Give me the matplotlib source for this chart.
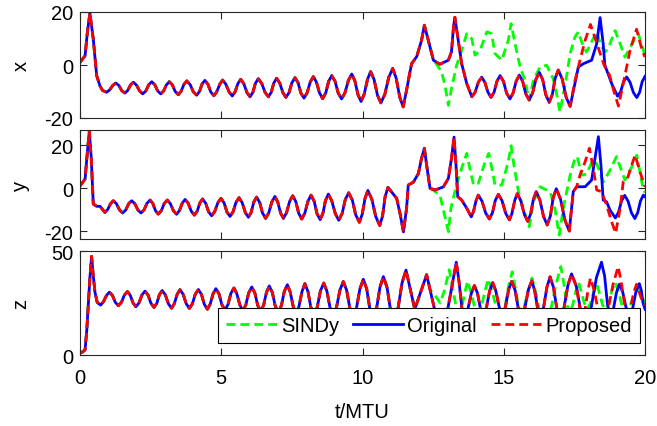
import numpy as np
import matplotlib
matplotlib.use("Agg")
import matplotlib.pyplot as plt

# (t, value) points, Original trajectory
x_orig = [(0, 1), (0.18, 3.5), (0.26, 12.3), (0.35, 19.6), (0.47, 9.8), (0.59, -4), (0.71, -8), (0.8, -9.6),
          (0.94, -10.3), (1.05, -9.4), (1.16, -7.7), (1.27, -6.8), (1.38, -7.8), (1.48, -9.7), (1.59, -10.6),
          (1.69, -9.6), (1.79, -7.5), (1.89, -6.5), (2.0, -7.6), (2.11, -9.8), (2.22, -10.9), (2.33, -9.8),
          (2.43, -7.5), (2.54, -6.3), (2.65, -7.5), (2.75, -9.8), (2.86, -10.9), (2.96, -9.8), (3.06, -7.5),
          (3.16, -6.3), (3.27, -7.5), (3.37, -10.0), (3.48, -11.2), (3.58, -9.9), (3.68, -7.3), (3.78, -6.0),
          (3.9, -7.4), (4.01, -10.1), (4.13, -11.4), (4.23, -10.0), (4.32, -7.2), (4.42, -5.8), (4.53, -7.3),
          (4.63, -10.2), (4.74, -11.6), (4.84, -10.1), (4.95, -7.2), (5.05, -5.7), (5.16, -7.2), (5.28, -10.2),
          (5.39, -11.7), (5.49, -10.1), (5.59, -7.0), (5.69, -5.4), (5.8, -7.1), (5.91, -10.4), (6.02, -12.0),
          (6.12, -10.3), (6.21, -6.9), (6.31, -5.2), (6.43, -6.9), (6.55, -10.3), (6.67, -12.0), (6.77, -10.3),
          (6.86, -6.8), (6.96, -5.0), (7.07, -6.8), (7.18, -10.4), (7.29, -12.2), (7.4, -10.4), (7.5, -6.7),
          (7.61, -4.8), (7.72, -6.7), (7.82, -10.6), (7.93, -12.5), (8.04, -10.5), (8.15, -6.4), (8.26, -4.4),
          (8.37, -6.5), (8.48, -10.6), (8.59, -12.7), (8.7, -10.5), (8.8, -6.2), (8.91, -4.0), (9.03, -6.2),
          (9.14, -10.6), (9.26, -12.8), (9.38, -10.5), (9.5, -5.8), (9.62, -3.4), (9.73, -6.0), (9.84, -11.2),
          (9.95, -13.8), (10.06, -11.0), (10.18, -5.3), (10.29, -2.5), (10.41, -5.5), (10.53, -11.4),
          (10.65, -14.3), (10.79, -11.1), (10.93, -4.6), (11.07, -1.3), (11.19, -4.9), (11.32, -12.2),
          (11.44, -15.8), (11.56, -9.5), (11.68, -2.6), (11.74, 0.5), (11.92, 3.2), (12.09, 9.3), (12.19, 15),
          (12.33, 9.3), (12.51, 1.8), (12.74, 0.3), (13.04, 1.8), (13.15, 5), (13.22, 14.3), (13.27, 18),
          (13.39, 9.3), (13.51, 0.5), (13.69, -7), (13.87, -12), (13.99, -10.2), (14.1, -6.5), (14.22, -4.6),
          (14.33, -6.5), (14.44, -10.3), (14.55, -12.2), (14.66, -10.2), (14.76, -6.1), (14.87, -4.0),
          (14.99, -6.2), (15.1, -10.6), (15.22, -12.8), (15.33, -10.6), (15.44, -6.1), (15.55, -3.8),
          (15.67, -6.2), (15.78, -10.9), (15.9, -13.2), (16.02, -10.6), (16.14, -5.4), (16.26, -2.8),
          (16.38, -5.6), (16.49, -11.3), (16.61, -14.1), (16.72, -11.1), (16.82, -5.0), (16.93, -1.9),
          (17.07, -5.3), (17.21, -12.2), (17.35, -15.6), (17.52, -7), (17.64, -0.8), (17.82, 0.5),
          (18.11, 1.8), (18.29, 8), (18.41, 17.9), (18.52, 8), (18.58, -0.1), (18.82, -7), (19.03, -11.8),
          (19.14, -10.0), (19.24, -6.3), (19.35, -4.5), (19.47, -6.5), (19.59, -10.4), (19.71, -12.3),
          (19.81, -10.3), (19.9, -6.3), (20, -4.3)]

y_orig = [(0, 1), (0.18, 4.2), (0.26, 16.6), (0.33, 26.6), (0.4, 13.5), (0.47, -7.4), (0.59, -8.5), (0.71, -8.5),
          (0.88, -11.3), (0.98, -10.0), (1.08, -7.3), (1.18, -5.9), (1.29, -7.3), (1.4, -10.2), (1.51, -11.6),
          (1.62, -10.2), (1.72, -7.3), (1.83, -5.9), (1.94, -7.3), (2.05, -10.2), (2.16, -11.6), (2.27, -10.1),
          (2.37, -7.1), (2.48, -5.6), (2.58, -7.2), (2.67, -10.5), (2.77, -12.1), (2.88, -10.5), (2.98, -7.2),
          (3.09, -5.6), (3.2, -7.3), (3.31, -10.6), (3.42, -12.2), (3.52, -10.5), (3.62, -7.0), (3.72, -5.3),
          (3.83, -7.1), (3.94, -10.8), (4.05, -12.6), (4.15, -10.7), (4.24, -7.0), (4.34, -5.1), (4.45, -7.1),
          (4.55, -11.0), (4.66, -12.9), (4.77, -10.9), (4.88, -6.8), (4.99, -4.8), (5.1, -6.9), (5.2, -11.1),
          (5.31, -13.2), (5.42, -11.0), (5.52, -6.7), (5.63, -4.5), (5.74, -6.8), (5.85, -11.3), (5.96, -13.6),
          (6.06, -11.3), (6.15, -6.6), (6.25, -4.2), (6.36, -6.7), (6.46, -11.6), (6.57, -14.1), (6.68, -11.6),
          (6.79, -6.5), (6.9, -3.9), (7.0, -6.5), (7.1, -11.6), (7.2, -14.1), (7.31, -11.5), (7.42, -6.2),
          (7.53, -3.6), (7.64, -6.3), (7.74, -11.7), (7.85, -14.4), (7.96, -11.6), (8.07, -6.1), (8.18, -3.3),
          (8.29, -6.2), (8.39, -11.9), (8.5, -14.7), (8.6, -11.7), (8.69, -5.8), (8.79, -2.8), (8.91, -5.9),
          (9.04, -12.0), (9.16, -15), (9.28, -11.8), (9.39, -5.4), (9.51, -2.2), (9.64, -5.6), (9.76, -12.5),
          (9.89, -15.9), (9.99, -12.2), (10.09, -4.8), (10.19, -1.1), (10.33, -5.2), (10.47, -13.3),
          (10.61, -17.4), (10.71, -13.0), (10.8, -4.1), (10.9, 0.3), (11.21, -4.8), (11.33, -12), (11.45, -20.4),
          (11.56, -9.4), (11.62, 1.4), (11.8, 2.7), (11.98, 6.8), (12.09, 13.8), (12.19, 18.5), (12.27, 10.7),
          (12.39, -0.1), (12.57, -0.9), (12.86, 0.5), (13.04, 4.5), (13.15, 13.8), (13.24, 23.7),
          (13.31, 10.7), (13.37, -4), (13.51, -5.6), (13.69, -9.4), (13.85, -13.4), (13.93, -10.9),
          (14.02, -5.8), (14.1, -3.3), (14.23, -6.1), (14.36, -11.6), (14.49, -14.4), (14.6, -11.5),
          (14.7, -5.8), (14.81, -2.9), (14.94, -5.9), (15.07, -11.8), (15.2, -14.8), (15.29, -11.8),
          (15.39, -5.7), (15.48, -2.6), (15.6, -5.8), (15.73, -12.3), (15.85, -15.5), (15.95, -12.1),
          (16.05, -5.2), (16.15, -1.7), (16.28, -5.6), (16.41, -13.3), (16.54, -17.2), (16.65, -13.0),
          (16.75, -4.5), (16.86, -0.3), (17.01, -5.2), (17.17, -15.1), (17.32, -20), (17.46, -1.7),
          (17.58, 0.6), (17.88, 0.6), (18.11, 3.7), (18.23, 13.8), (18.35, 23.9), (18.44, 10.7), (18.52, -5.6),
          (18.64, -6.4), (18.76, -10.2), (18.95, -13.9), (19.06, -11.3), (19.17, -6.0), (19.28, -3.4),
          (19.4, -6.1), (19.52, -11.5), (19.64, -14.2), (19.74, -11.5), (19.84, -6.0), (19.94, -3.3), (20, -4)]

z_orig = [(0, 1.1), (0.1, 1.5), (0.18, 2.5), (0.24, 12), (0.29, 23.7), (0.35, 37), (0.41, 47.4), (0.47, 38),
          (0.53, 30.2), (0.61, 25.3), (0.73, 24), (0.83, 25.6), (0.94, 28.7), (1.04, 30.2), (1.15, 28.6),
          (1.25, 25.3), (1.36, 23.7), (1.47, 25.4), (1.57, 28.8), (1.68, 30.5), (1.78, 28.7), (1.88, 25.0),
          (1.98, 23.2), (2.09, 25.1), (2.19, 28.8), (2.3, 30.7), (2.41, 28.8), (2.51, 24.9), (2.62, 22.9),
          (2.72, 24.9), (2.81, 29.0), (2.91, 31), (3.02, 28.9), (3.13, 24.6), (3.24, 22.5), (3.34, 24.7),
          (3.44, 29.2), (3.54, 31.4), (3.65, 29.2), (3.76, 24.7), (3.87, 22.4), (3.98, 24.7), (4.08, 29.2),
          (4.19, 31.5), (4.3, 29.1), (4.4, 24.4), (4.51, 22), (4.61, 24.5), (4.71, 29.4), (4.81, 31.9),
          (4.92, 29.4), (5.02, 24.3), (5.13, 21.7), (5.24, 24.3), (5.34, 29.6), (5.45, 32.2), (5.55, 29.5),
          (5.66, 24.0), (5.76, 21.2), (5.87, 24.1), (5.97, 29.8), (6.08, 32.7), (6.19, 29.8), (6.29, 23.9),
          (6.4, 20.9), (6.5, 24.0), (6.6, 30.1), (6.7, 33.2), (6.81, 30.0), (6.91, 23.6), (7.02, 20.4),
          (7.13, 23.8), (7.23, 30.5), (7.34, 33.8), (7.44, 30.3), (7.55, 23.2), (7.65, 19.6), (7.75, 23.3),
          (7.86, 30.6), (7.96, 34.3), (8.07, 30.5), (8.17, 23.0), (8.28, 19.2), (8.4, 23.1), (8.51, 30.8),
          (8.63, 34.6), (8.74, 30.7), (8.85, 22.8), (8.96, 18.8), (9.08, 22.9), (9.2, 31.2), (9.32, 35.3),
          (9.44, 31.1), (9.55, 22.6), (9.67, 18.3), (9.79, 22.8), (9.91, 31.9), (10.03, 36.4), (10.15, 31.7),
          (10.26, 22.2), (10.38, 17.5), (10.5, 22.6), (10.62, 32.7), (10.74, 37.7), (10.87, 32.4),
          (10.99, 21.8), (11.12, 16.5), (11.26, 22.6), (11.4, 34.7), (11.54, 40.8), (11.85, 22), (12.27, 38.6),
          (12.4, 31), (12.55, 22), (12.75, 14), (12.95, 17), (13.15, 32), (13.32, 44.6), (13.42, 35),
          (13.52, 22), (13.62, 18), (13.73, 22), (13.85, 29.5), (13.96, 33.4), (14.07, 29.8), (14.17, 22.6),
          (14.28, 19), (14.39, 23), (14.5, 30.8), (14.61, 34.8), (14.72, 30.8), (14.84, 23), (14.95, 19),
          (15.06, 23.1), (15.17, 31.3), (15.28, 35.4), (15.4, 31.2), (15.51, 22.7), (15.63, 18.5),
          (15.75, 22.8), (15.87, 31.3), (15.99, 35.6), (16.09, 31.2), (16.2, 22.4), (16.3, 18), (16.41, 22.9),
          (16.53, 32.7), (16.64, 37.6), (16.76, 32.5), (16.88, 22.2), (17.0, 17), (17.13, 22.5), (17.27, 33.5),
          (17.4, 39), (17.57, 33), (17.73, 21), (17.9, 15), (18.09, 22.4), (18.28, 37.2), (18.46, 44.6),
          (18.57, 38), (18.67, 24.6), (18.78, 18), (18.88, 22), (18.99, 30), (19.09, 34), (19.21, 30.3),
          (19.33, 22.8), (19.45, 19), (19.57, 22.8), (19.68, 30.5), (19.8, 34.3), (19.87, 31), (19.93, 25),
          (20, 22)]

# Proposed model: follows Original until its tail starts
x_prop_tail = [(17.52, -6), (17.7, 1.8), (17.88, 9.3), (18.07, 15.3), (18.3, 8), (18.55, 0), (18.75, -4),
               (18.9, -10), (19.06, -15.5), (19.23, -7), (19.47, 5.5), (19.7, 13.5), (19.9, 5.5), (20, 3)]
y_prop_tail = [(17.58, 0.6), (17.7, 6), (17.88, 12.2), (18.03, 18.5), (18.17, 9.2), (18.29, -0.9),
               (18.46, -1.7), (18.64, -7.9), (18.82, -15.7), (18.96, -21), (19.12, -9.4), (19.23, 2.9),
               (19.38, 4.5), (19.53, 10.7), (19.65, 15.3), (19.82, 7.6), (20, 0.6)]
z_prop_tail = [(17.73, 19), (17.88, 22), (17.98, 31), (18.07, 37), (18.2, 31), (18.35, 21), (18.5, 17),
               (18.68, 21), (18.87, 34), (19.05, 42.5), (19.16, 35), (19.27, 25), (19.38, 20), (19.49, 23),
               (19.6, 30), (19.7, 34), (19.8, 30), (19.9, 26), (20, 24)]

# SINDy: follows Original until its tail starts
x_sindy_tail = [(12.57, 1.1), (12.8, -2.6), (12.92, -7.7), (13.04, -15.2), (13.15, -8.9), (13.33, -0.1),
                (13.51, 5.5), (13.69, 11.8), (13.87, 9.9), (13.98, 3.7), (14.16, 5.5), (14.4, 12.5),
                (14.57, 11.8), (14.69, 4.3), (14.93, 1.8), (15.16, 9.3), (15.26, 15.6), (15.4, 8),
                (15.58, -0.8), (15.75, -5.8), (15.9, -13.3), (16.05, -5.8), (16.28, -0.8), (16.52, -0.1),
                (16.75, -5.2), (16.87, -10.8), (16.99, -17.7), (17.17, -7.7), (17.35, 4.3), (17.52, 10.6),
                (17.64, 12.5), (17.82, 6.8), (17.93, 4.9), (18.12, 9), (18.29, 12.5), (18.46, 6.8),
                (18.6, 5), (18.76, 8), (18.94, 13), (19.12, 8), (19.29, 3), (19.58, 8.7), (19.76, 11.8),
                (19.98, 4.3)]
y_sindy_tail = [(12.45, -0.5), (12.74, -3.3), (12.86, -10), (13.04, -20.3), (13.13, -9.4), (13.3, 0),
                (13.51, 9.2), (13.69, 16.1), (13.8, 9.2), (13.93, 1.4), (14.1, 2.2), (14.34, 12.2),
                (14.47, 16.1), (14.6, 8), (14.69, 1.4), (14.93, 1.4), (15.16, 12.2), (15.26, 19.7),
                (15.36, 10.7), (15.52, -1.7), (15.69, -9.4), (15.9, -18), (16.05, -6.4), (16.28, 0.6),
                (16.45, -0.5), (16.64, -1.7), (16.81, -9.4), (16.96, -21.9), (17.13, -7.9), (17.35, 6),
                (17.52, 13.8), (17.6, 14.6), (17.76, 6), (17.93, 6.5), (18.15, 13), (18.3, 11),
                (18.52, 2.9), (18.75, 8), (18.99, 14.6), (19.29, 3.7), (19.5, 9), (19.71, 15.3),
                (19.94, -0.9), (20, -2)]
z_sindy_tail = [(12.5, 30), (12.75, 25), (12.9, 31), (13.07, 41), (13.18, 33), (13.29, 25), (13.4, 20),
                (13.5, 22), (13.62, 30), (13.72, 35.5), (13.84, 30), (13.97, 23), (14.1, 20), (14.22, 24),
                (14.34, 31), (14.45, 36.5), (14.6, 30), (14.75, 22), (14.9, 17), (15.03, 22), (15.17, 33),
                (15.3, 40), (15.4, 33), (15.51, 24), (15.62, 20), (15.74, 24), (15.87, 31), (16.0, 37),
                (16.15, 29), (16.3, 19), (16.45, 14), (16.64, 20), (16.83, 33), (17.02, 42.5), (17.12, 35),
                (17.22, 25), (17.33, 20), (17.44, 24), (17.54, 30), (17.65, 35), (17.75, 30), (17.85, 25),
                (17.95, 22), (18.07, 25), (18.18, 30), (18.3, 34), (18.4, 29), (18.5, 24), (18.6, 22),
                (18.72, 25), (18.83, 31), (18.95, 35), (19.07, 30), (19.18, 24), (19.3, 20), (19.45, 23),
                (19.6, 28), (19.75, 32), (19.85, 29), (20, 25)]

ylabels = ["x", "y", "z"]
ylims = [(-20, 20), (-23.7, 27), (0, 50)]
yticks = [[-20, 0, 20], [-20, 0, 20], [0, 50]]
xticks = [0, 5, 10, 15, 20]
legend_labels = ["SINDy", "Original", "Proposed"]


def join(base, tail):
    base = np.array(base, dtype=float)
    tail = np.array(tail, dtype=float)
    keep = base[base[:, 0] < tail[0, 0]]
    return np.vstack([keep, tail])


plt.rcParams["font.family"] = ["Liberation Sans", "DejaVu Sans"]
plt.rcParams["axes.unicode_minus"] = False
FS = 14.5
DARK = "#262626"

fig = plt.figure(figsize=(6.57, 4.27), dpi=100)
# axes boxes in pixels: left 80, right 645; tops/bottoms from the reference
W, H = 657, 427
boxes = [(13, 119), (131, 240), (252, 356)]

series = [(x_orig, x_prop_tail, x_sindy_tail),
          (y_orig, y_prop_tail, y_sindy_tail),
          (z_orig, z_prop_tail, z_sindy_tail)]

axes = []
for i, (top, bot) in enumerate(boxes):
    ax = fig.add_axes([80 / W, 1 - bot / H, 565 / W, (bot - top) / H])
    orig, prop_tail, sindy_tail = series[i]
    o = np.array(orig, dtype=float)
    p = join(orig, prop_tail)
    s = join(orig, sindy_tail)
    ls_, = ax.plot(s[:, 0], s[:, 1], color=(0, 1, 0), ls="--", lw=2, dashes=(3.2, 1.8))
    lo, = ax.plot(o[:, 0], o[:, 1], color=(0, 0, 1), lw=2)
    lp, = ax.plot(p[:, 0], p[:, 1], color=(1, 0, 0), ls="--", lw=2, dashes=(3.2, 1.8))
    for l in (ls_, lo, lp):
        l.set_solid_joinstyle("round")
        l.set_dash_joinstyle("round")
    ax.set_xlim(0, 20)
    ax.set_ylim(*ylims[i])
    ax.set_xticks(xticks)
    ax.set_yticks(yticks[i])
    ax.tick_params(direction="in", top=True, right=True, length=5, width=0.8,
                   colors=DARK, labelsize=FS, labelcolor="black")
    ax.tick_params(axis="y", pad=5)
    ax.tick_params(axis="x", pad=9)
    for sp in ax.spines.values():
        sp.set_color(DARK)
        sp.set_linewidth(0.8)
    ax.set_ylabel(ylabels[i], fontsize=FS)
    ax.yaxis.set_label_coords(-0.088, 0.5)
    if i < 2:
        ax.set_xticklabels([])
    axes.append(ax)

ax = axes[2]
ax.set_xlabel("t/MTU", fontsize=FS, labelpad=11)
leg = ax.legend([ls_, lo, lp], legend_labels, ncol=3, loc="lower right",
                bbox_to_anchor=(0.991, 0.115), fontsize=FS, frameon=True, fancybox=False,
                framealpha=1, edgecolor="black", handlelength=2.5, handletextpad=0.2,
                columnspacing=0.7, borderpad=0.4, borderaxespad=0)
leg.get_frame().set_linewidth(0.8)
leg.set_zorder(10)

fig.savefig("out.png", dpi=100)
